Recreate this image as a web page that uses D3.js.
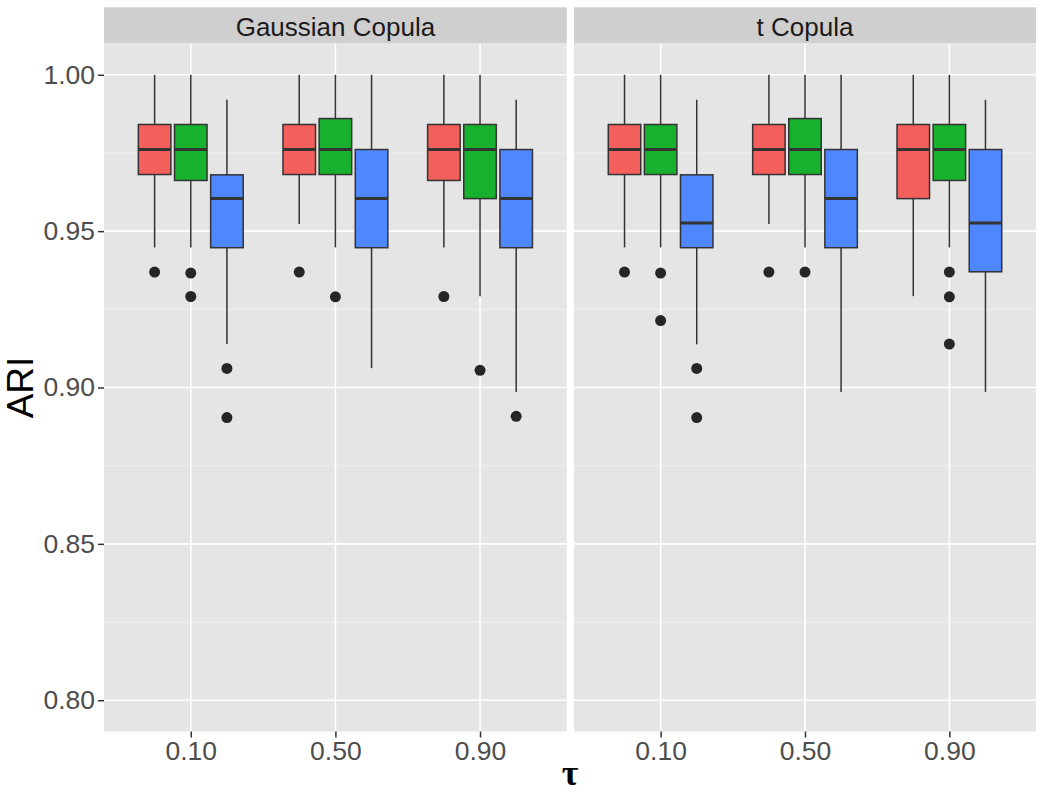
<!DOCTYPE html>
<html>
<head>
<meta charset="utf-8">
<script src="https://cdn.jsdelivr.net/npm/d3@7"></script>
<style>
  body { margin: 0; background: #fff; }
  text { font-family: "Liberation Sans", Arial, sans-serif; }
</style>
</head>
<body>
<div id="chart"></div>
<script>
const copulas = ["Gaussian Copula", "t Copula"]
const taus = ["0.10", "0.50", "0.90"]
const methods = ["m1", "m2", "m3"]
const fills = ["#F35F5B", "#17B12E", "#4F87FF"]
const yTicks = [0.80, 0.85, 0.90, 0.95, 1.00]
const yMinor = [0.825, 0.875, 0.925, 0.975]

// box stats per tau, per method: [lower whisker, Q1, median, Q3, upper whisker]
const gaussianStats = [
  [[0.9448, 0.9681, 0.9761, 0.9841, 1.0], [0.9448, 0.9662, 0.9761, 0.9841, 1.0], [0.9139, 0.9447, 0.9604, 0.9680, 0.9920]],
  [[0.9523, 0.9681, 0.9761, 0.9841, 1.0], [0.9448, 0.9681, 0.9761, 0.9860, 1.0], [0.9062, 0.9447, 0.9604, 0.9761, 1.0]],
  [[0.9448, 0.9662, 0.9761, 0.9841, 1.0], [0.9292, 0.9604, 0.9761, 0.9841, 1.0], [0.8986, 0.9447, 0.9604, 0.9761, 0.9920]]
]
const gaussianOutliers = [
  [[0.9369], [0.9366, 0.9291], [0.9061, 0.8904]],
  [[0.9369], [0.9290], []],
  [[0.9291], [0.9055], [0.8908]]
]
const tStats = [
  [[0.9448, 0.9681, 0.9761, 0.9841, 1.0], [0.9448, 0.9681, 0.9761, 0.9841, 1.0], [0.9138, 0.9447, 0.9526, 0.9680, 0.9920]],
  [[0.9523, 0.9681, 0.9761, 0.9841, 1.0], [0.9448, 0.9681, 0.9761, 0.9860, 1.0], [0.8986, 0.9447, 0.9604, 0.9761, 1.0]],
  [[0.9292, 0.9604, 0.9761, 0.9841, 1.0], [0.9448, 0.9662, 0.9761, 0.9841, 1.0], [0.8986, 0.9370, 0.9526, 0.9761, 0.9920]]
]
const tOutliers = [
  [[0.9369], [0.9366, 0.9214], [0.9061, 0.8904]],
  [[0.9369], [0.9369], []],
  [[], [0.9369, 0.9290, 0.9139], []]
]
const allStats = [gaussianStats, tStats]
const allOutliers = [gaussianOutliers, tOutliers]

const width = 1044, height = 800
const panelTop = 43.5, panelBottom = 731.5
const panels = [[104, 566.8], [574, 1036]]
const stripTop = 7.3

const svg = d3.select("#chart").append("svg")
  .attr("width", width)
  .attr("height", height)

svg.append("rect").attr("width", width).attr("height", height).attr("fill", "#fff")

const y = d3.scaleLinear().domain([0.79, 1.01]).range([panelBottom, panelTop])

copulas.forEach((cop, p) => {
  const [x0, x1] = panels[p]
  const x = d3.scalePoint().domain(taus).range([x0, x1]).padding(0.6)
  const step = x.step()
  const dodge = d3.scaleBand().domain(methods)
    .range([-0.375 * step, 0.375 * step])
    .paddingInner(0.1).paddingOuter(0.05)

  const g = svg.append("g")

  // strip
  g.append("rect")
    .attr("x", x0).attr("y", stripTop)
    .attr("width", x1 - x0).attr("height", panelTop - stripTop)
    .attr("fill", "#CFCFCF")
  g.append("text")
    .attr("x", (x0 + x1) / 2).attr("y", 36)
    .attr("text-anchor", "middle")
    .attr("font-size", 26)
    .attr("fill", "#1A1A1A")
    .text(cop)

  // panel background and grid
  g.append("rect")
    .attr("x", x0).attr("y", panelTop)
    .attr("width", x1 - x0).attr("height", panelBottom - panelTop)
    .attr("fill", "#E5E5E5")
  g.selectAll("line.minor").data(yMinor).enter().append("line")
    .attr("x1", x0).attr("x2", x1)
    .attr("y1", d => y(d)).attr("y2", d => y(d))
    .attr("stroke", "#F2F2F2").attr("stroke-width", 0.8)
  g.selectAll("line.majory").data(yTicks).enter().append("line")
    .attr("x1", x0).attr("x2", x1)
    .attr("y1", d => y(d)).attr("y2", d => y(d))
    .attr("stroke", "#fff").attr("stroke-width", 1.6)
  g.selectAll("line.majorx").data(taus).enter().append("line")
    .attr("x1", d => x(d)).attr("x2", d => x(d))
    .attr("y1", panelTop).attr("y2", panelBottom)
    .attr("stroke", "#fff").attr("stroke-width", 1.6)

  // boxes
  taus.forEach((tau, i) => {
    methods.forEach((m, j) => {
      const s = allStats[p][i][j]
      const bx = x(tau) + dodge(m)
      const bw = dodge.bandwidth()
      const cx = bx + bw / 2
      const bg = g.append("g")
      // whiskers
      bg.append("line")
        .attr("x1", cx).attr("x2", cx)
        .attr("y1", y(s[3])).attr("y2", y(s[4]))
        .attr("stroke", "#333").attr("stroke-width", 1.5)
      bg.append("line")
        .attr("x1", cx).attr("x2", cx)
        .attr("y1", y(s[1])).attr("y2", y(s[0]))
        .attr("stroke", "#333").attr("stroke-width", 1.5)
      bg.append("rect")
        .attr("x", bx).attr("y", y(s[3]))
        .attr("width", bw).attr("height", y(s[1]) - y(s[3]))
        .attr("fill", fills[j])
        .attr("stroke", "#333").attr("stroke-width", 1.5)
      bg.append("line")
        .attr("x1", bx).attr("x2", bx + bw)
        .attr("y1", y(s[2])).attr("y2", y(s[2]))
        .attr("stroke", "#333").attr("stroke-width", 3)
      bg.selectAll("circle").data(allOutliers[p][i][j]).enter().append("circle")
        .attr("cx", cx).attr("cy", d => y(d))
        .attr("r", 5.5)
        .attr("fill", "#262626")
    })
  })

  // x axis
  const xAxis = g.append("g")
    .attr("transform", "translate(0," + panelBottom + ")")
    .call(d3.axisBottom(x).tickSize(6).tickPadding(4))
  xAxis.select(".domain").remove()
  xAxis.selectAll("line").attr("stroke", "#333").attr("stroke-width", 1.5)
  xAxis.selectAll("text")
    .attr("font-size", 26.5)
    .attr("fill", "#4D4D4D")
    .attr("font-family", "Liberation Sans, Arial, sans-serif")
})

// y axis
const yAxis = svg.append("g")
  .attr("transform", "translate(" + panels[0][0] + ",0)")
  .call(d3.axisLeft(y).tickValues(yTicks).tickFormat(d3.format(".2f")).tickSize(6).tickPadding(3))
yAxis.select(".domain").remove()
yAxis.selectAll("line").attr("stroke", "#333").attr("stroke-width", 1.5)
yAxis.selectAll("text")
  .attr("font-size", 26.5)
  .attr("fill", "#4D4D4D")
  .attr("font-family", "Liberation Sans, Arial, sans-serif")

// axis titles
svg.append("text")
  .attr("transform", "translate(33," + (panelTop + panelBottom) / 2 + ") rotate(-90)")
  .attr("text-anchor", "middle")
  .attr("font-size", 37)
  .attr("fill", "#000")
  .text("ARI")

svg.append("text")
  .attr("x", (panels[0][0] + panels[1][1]) / 2)
  .attr("y", 785)
  .attr("text-anchor", "middle")
  .attr("font-size", 36)
  .attr("font-weight", "bold")
  .style("font-family", "'Liberation Serif', 'DejaVu Serif', serif")
  .attr("fill", "#000")
  .text("τ")
</script>
</body>
</html>
